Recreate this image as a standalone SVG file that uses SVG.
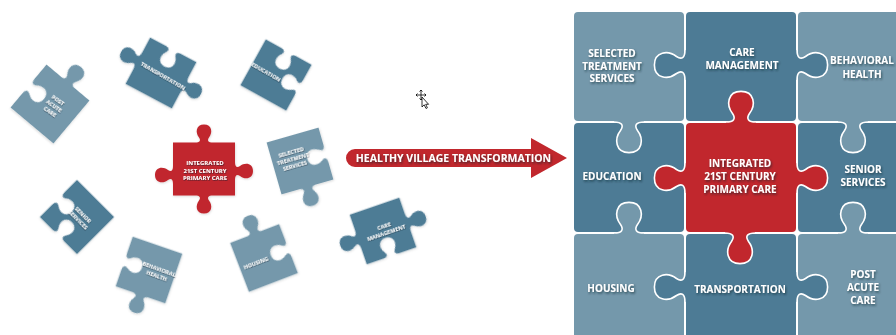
<svg xmlns="http://www.w3.org/2000/svg" xmlns:xlink="http://www.w3.org/1999/xlink" width="896" height="335" viewBox="0 0 896 335">
  <style>
    .lt { fill: #7498ab; }
    .dk { fill: #4d7b95; }
    .rd { fill: #c1272d; }
    .ko { fill: none; stroke: #ffffff; stroke-width: 1.6; }
    .gt { font-family: "Open Sans", "Liberation Sans", sans-serif; font-weight: 700; font-size: 10px; fill: #ffffff; text-anchor: middle; filter: url(#ts); }
    .st { font-family: "Open Sans", "Liberation Sans", sans-serif; font-weight: 700; font-size: 5.5px; fill: #ffffff; text-anchor: middle; filter: url(#ts2); }
    .at { font-family: "Open Sans", "Liberation Sans", sans-serif; font-weight: 700; font-size: 10.5px; fill: #ffffff; text-anchor: middle; filter: url(#ts); }
    .pc { filter: url(#ps); }
  </style>
  <defs>
    <filter id="ts" x="-20%" y="-50%" width="140%" height="200%">
      <feDropShadow dx="1" dy="1.5" stdDeviation="0.9" flood-color="#14222c" flood-opacity="0.65"/>
    </filter>
    <filter id="ts2" x="-20%" y="-50%" width="140%" height="200%">
      <feDropShadow dx="0.6" dy="0.9" stdDeviation="0.5" flood-color="#14222c" flood-opacity="0.6"/>
    </filter>
    <filter id="ps" x="-20%" y="-20%" width="140%" height="140%">
      <feDropShadow dx="0.5" dy="1" stdDeviation="1" flood-color="#000000" flood-opacity="0.15"/>
    </filter>
    <path id="gk" d="M -2,-15 L 0,-15 C 0,-7 3.4,-5 8.5,-8.5 C 17,-15 30.6,-13.6 30.6,0 C 30.6,13.6 17,15 8.5,8.5 C 3.4,5 0,7 0,15 L -2,15 Z"/>
    <path id="gko" d="M 0,-15 C 0,-7 3.4,-5 8.5,-8.5 C 17,-15 30.6,-13.6 30.6,0 C 30.6,13.6 17,15 8.5,8.5 C 3.4,5 0,7 0,15"/>
  </defs>

  <rect x="0" y="0" width="896" height="335" fill="#ffffff"/>

  <!-- Scattered pieces -->
  <g id="piece-post-acute-care">
    <path class="lt pc" transform="translate(50,104) rotate(40) scale(1.12)" d="M -25,-25 L -9,-25 C -4,-25 -3,-27 -5,-30 C -9,-35 -8,-43 0,-43 C 8,-43 9,-35 5,-30 C 3,-27 4,-25 9,-25 L 25,-25 L 25,25 L -25,25 L -25,9 C -25,4 -23,3 -20,5 C -15,9 -7,8 -7,0 C -7,-8 -15,-9 -20,-5 C -23,-3 -25,-4 -25,-9 Z"/>
    <text class="st" transform="translate(54,106) rotate(35)"><tspan x="0" y="-5">POST</tspan><tspan x="0" y="2">ACUTE</tspan><tspan x="0" y="9">CARE</tspan></text>
  </g>

  <g id="piece-transportation">
    <path class="dk pc" transform="translate(161,73) rotate(28) scale(1.05)" d="M -25,-25 L -9,-25 C -4,-25 -3,-23 -5,-20 C -9,-15 -8,-7 0,-7 C 8,-7 9,-15 5,-20 C 3,-23 4,-25 9,-25 L 25,-25 L 25,-9 C 25,-4 27,-3 30,-5 C 35,-9 43,-8 43,0 C 43,8 35,9 30,5 C 27,3 25,4 25,9 L 25,25 L -25,25 L -25,9 C -25,4 -27,3 -30,5 C -35,9 -43,8 -43,0 C -43,-8 -35,-9 -30,-5 C -27,-3 -25,-4 -25,-9 Z"/>
    <text class="st" transform="translate(163,76) rotate(30)" x="0" y="2">TRANSPORTATION</text>
  </g>

  <g id="piece-education">
    <path class="dk pc" transform="translate(276,75) rotate(29) scale(1.05)" d="M -25,-25 L -9,-25 C -4,-25 -3,-23 -5,-20 C -9,-15 -8,-7 0,-7 C 8,-7 9,-15 5,-20 C 3,-23 4,-25 9,-25 L 25,-25 L 25,-9 C 25,-4 23,-3 20,-5 C 15,-9 7,-8 7,0 C 7,8 15,9 20,5 C 23,3 25,4 25,9 L 25,25 L -25,25 Z"/>
    <text class="st" transform="translate(266,72) rotate(30)" x="0" y="2">EDUCATION</text>
  </g>

  <g id="piece-integrated">
    <path class="rd pc" transform="translate(204,169)" d="M -31,-26.5 L -9,-26.5 C -4,-26.5 -3,-28.5 -5,-31.5 C -9,-36.5 -8,-44.5 0,-44.5 C 8,-44.5 9,-36.5 5,-31.5 C 3,-28.5 4,-26.5 9,-26.5 L 31,-26.5 L 31,-7 C 31,-2 33,-1 36,-3 C 41,-7 49,-6 49,2 C 49,10 41,11 36,7 C 33,5 31,6 31,11 L 31,26.5 L 9,26.5 C 4,26.5 3,28.5 5,31.5 C 9,36.5 8,44.5 0,44.5 C -8,44.5 -9,36.5 -5,31.5 C -3,28.5 -4,26.5 -9,26.5 L -31,26.5 L -31,15 C -31,10 -33,9 -36,11 C -41,15 -49,14 -49,6 C -49,-2 -41,-3 -36,1 C -33,3 -31,2 -31,-3 Z"/>
    <text class="st" style="font-size:6px" x="205" y="165">INTEGRATED</text>
    <text class="st" style="font-size:6px" x="205" y="172.5">21ST CENTURY</text>
    <text class="st" style="font-size:6px" x="205" y="180">PRIMARY CARE</text>
  </g>

  <g id="piece-selected-treatment">
    <path class="lt pc" transform="translate(300,161) rotate(-16) scale(1.08)" d="M -25,-25 L 25,-25 L 25,-9 C 25,-4 23,-3 20,-5 C 15,-9 7,-8 7,0 C 7,8 15,9 20,5 C 23,3 25,4 25,9 L 25,25 L 9,25 C 4,25 3,27 5,30 C 9,35 8,43 0,43 C -8,43 -9,35 -5,30 C -3,27 -4,25 -9,25 L -25,25 Z"/>
    <text class="st" transform="translate(293,159) rotate(-16)"><tspan x="0" y="-5">SELECTED</tspan><tspan x="0" y="2">TREATMENT</tspan><tspan x="0" y="9">SERVICES</tspan></text>
  </g>

  <g id="piece-senior-services">
    <path class="dk pc" transform="translate(77,217) rotate(45) scale(1.05)" d="M -25,-25 L 25,-25 L 25,25 L 9,25 C 4,25 3,23 5,20 C 9,15 8,7 0,7 C -8,7 -9,15 -5,20 C -3,23 -4,25 -9,25 L -25,25 L -25,9 C -25,4 -23,3 -20,5 C -15,9 -7,8 -7,0 C -7,-8 -15,-9 -20,-5 C -23,-3 -25,-4 -25,-9 Z"/>
    <text class="st" transform="translate(81,217) rotate(45)"><tspan x="0" y="-1.5">SENIOR</tspan><tspan x="0" y="5.5">SERVICES</tspan></text>
  </g>

  <g id="piece-behavioral-health">
    <path class="lt pc" transform="translate(149,270) rotate(19) scale(1.05)" d="M -25,-25 L 25,-25 L 25,25 L 9,25 C 4,25 3,27 5,30 C 9,35 8,43 0,43 C -8,43 -9,35 -5,30 C -3,27 -4,25 -9,25 L -25,25 L -25,9 C -25,4 -23,3 -20,5 C -15,9 -7,8 -7,0 C -7,-8 -15,-9 -20,-5 C -23,-3 -25,-4 -25,-9 Z"/>
    <text class="st" transform="translate(158,272) rotate(20)"><tspan x="0" y="-1.5">BEHAVIORAL</tspan><tspan x="0" y="5.5">HEALTH</tspan></text>
  </g>

  <g id="piece-housing">
    <path class="lt pc" transform="translate(264,258) rotate(-21) scale(1.05)" d="M -25,-25 L -9,-25 C -4,-25 -3,-27 -5,-30 C -9,-35 -8,-43 0,-43 C 8,-43 9,-35 5,-30 C 3,-27 4,-25 9,-25 L 25,-25 L 25,-9 C 25,-4 23,-3 20,-5 C 15,-9 7,-8 7,0 C 7,8 15,9 20,5 C 23,3 25,4 25,9 L 25,25 L -25,25 Z"/>
    <text class="st" transform="translate(256,263) rotate(-21)" x="0" y="2">HOUSING</text>
  </g>

  <g id="piece-care-management">
    <path class="dk pc" transform="translate(383,231) rotate(-19) scale(1.05)" d="M -25,-25 L 25,-25 L 25,-9 C 25,-4 27,-3 30,-5 C 35,-9 43,-8 43,0 C 43,8 35,9 30,5 C 27,3 25,4 25,9 L 25,25 L 9,25 C 4,25 3,23 5,20 C 9,15 8,7 0,7 C -8,7 -9,15 -5,20 C -3,23 -4,25 -9,25 L -25,25 L -25,9 C -25,4 -27,3 -30,5 C -35,9 -43,8 -43,0 C -43,-8 -35,-9 -30,-5 C -27,-3 -25,-4 -25,-9 Z"/>
    <text class="st" transform="translate(385,229) rotate(-19)"><tspan x="0" y="-1.5">CARE</tspan><tspan x="0" y="5.5">MANAGEMENT</tspan></text>
  </g>

  <!-- Cursor -->
  <g id="cursor" stroke="#000000" stroke-width="0.8" fill="none">
    <path d="M 421,90 L 421,100 M 416,95 L 426,95"/>
    <path d="M 419.5,91.5 L 421,90 L 422.5,91.5 M 419.5,98.5 L 421,100 L 422.5,98.5 M 417.5,93.5 L 416,95 L 417.5,96.5 M 424.5,93.5 L 426,95 L 424.5,96.5"/>
    <path d="M 422,97 L 422,107 L 424.2,104.8 L 426,108.5 L 427.4,107.8 L 425.7,104.3 L 428.6,104.3 Z" fill="#ffffff"/>
  </g>

  <!-- Arrow -->
  <g id="connectors">
    <g id="arrow-healthy-village">
      <path class="rd" d="M 355,149 L 531,149 L 531,138 L 567,158 L 531,178 L 531,167 L 355,167 A 9 9 0 0 1 355,149 Z"/>
      <text class="at" x="453.5" y="162">HEALTHY VILLAGE TRANSFORMATION</text>
    </g>
  </g>

  <!-- Assembled grid -->
  <g id="tile-education">
    <rect class="dk" x="574" y="123" width="110" height="109" rx="4"/>
    <text class="gt" x="612" y="180">EDUCATION</text>
  </g>
  <g id="tile-senior-services">
    <rect class="dk" x="798" y="123" width="110" height="109" rx="4"/>
    <text class="gt" x="863" y="173">SENIOR</text>
    <text class="gt" x="863" y="186">SERVICES</text>
  </g>
  <g id="tile-housing">
    <rect class="lt" x="574" y="234" width="110" height="112" rx="4"/>
    <use href="#gk" class="lt" transform="translate(629,233) rotate(-90)"/>
    <use href="#gko" class="ko" transform="translate(629,233) rotate(-90)"/>
    <text class="gt" x="611" y="292">HOUSING</text>
  </g>
  <g id="tile-post-acute-care">
    <rect class="lt" x="798" y="234" width="110" height="112" rx="4"/>
    <use href="#gk" class="lt" transform="translate(853,233) rotate(-90)"/>
    <use href="#gko" class="ko" transform="translate(853,233) rotate(-90)"/>
    <text class="gt" x="863" y="278">POST</text>
    <text class="gt" x="863" y="291">ACUTE</text>
    <text class="gt" x="863" y="304">CARE</text>
  </g>
  <g id="tile-transportation">
    <rect class="dk" x="686" y="234" width="110" height="112" rx="4"/>
    <use href="#gk" class="dk" transform="translate(685,287) rotate(180)"/>
    <use href="#gko" class="ko" transform="translate(685,287) rotate(180)"/>
    <use href="#gk" class="dk" transform="translate(797,287)"/>
    <use href="#gko" class="ko" transform="translate(797,287)"/>
    <text class="gt" x="740" y="293">TRANSPORTATION</text>
  </g>
  <g id="tile-selected-treatment">
    <rect class="lt" x="574" y="12" width="110" height="109" rx="4"/>
    <use href="#gk" class="lt" transform="translate(629,122) rotate(90)"/>
    <use href="#gko" class="ko" transform="translate(629,122) rotate(90)"/>
    <text class="gt" x="612" y="57">SELECTED</text>
    <text class="gt" x="612" y="69.5">TREATMENT</text>
    <text class="gt" x="612" y="82">SERVICES</text>
  </g>
  <g id="tile-behavioral-health">
    <rect class="lt" x="798" y="12" width="110" height="109" rx="4"/>
    <use href="#gk" class="lt" transform="translate(853,122) rotate(90)"/>
    <use href="#gko" class="ko" transform="translate(853,122) rotate(90)"/>
    <text class="gt" x="862" y="64">BEHAVIORAL</text>
    <text class="gt" x="862" y="77.5">HEALTH</text>
  </g>
  <g id="tile-care-management">
    <rect class="dk" x="686" y="12" width="110" height="109" rx="4"/>
    <use href="#gk" class="dk" transform="translate(685,65) rotate(180)"/>
    <use href="#gko" class="ko" transform="translate(685,65) rotate(180)"/>
    <use href="#gk" class="dk" transform="translate(797,65)"/>
    <use href="#gko" class="ko" transform="translate(797,65)"/>
    <text class="gt" x="742" y="56">CARE</text>
    <text class="gt" x="742" y="69">MANAGEMENT</text>
  </g>
  <g id="tile-integrated">
    <rect class="rd" x="686" y="123" width="110" height="109" rx="4"/>
    <use href="#gk" class="rd" transform="translate(741,122) rotate(-90)"/>
    <use href="#gko" class="ko" transform="translate(741,122) rotate(-90)"/>
    <use href="#gk" class="rd" transform="translate(685,178) rotate(180)"/>
    <use href="#gko" class="ko" transform="translate(685,178) rotate(180)"/>
    <use href="#gk" class="rd" transform="translate(797,178)"/>
    <use href="#gko" class="ko" transform="translate(797,178)"/>
    <use href="#gk" class="rd" transform="translate(740,233) rotate(90)"/>
    <use href="#gko" class="ko" transform="translate(740,233) rotate(90)"/>
    <text class="gt" x="740" y="167">INTEGRATED</text>
    <text class="gt" x="740" y="180">21ST CENTURY</text>
    <text class="gt" x="740" y="193">PRIMARY CARE</text>
  </g>
</svg>
